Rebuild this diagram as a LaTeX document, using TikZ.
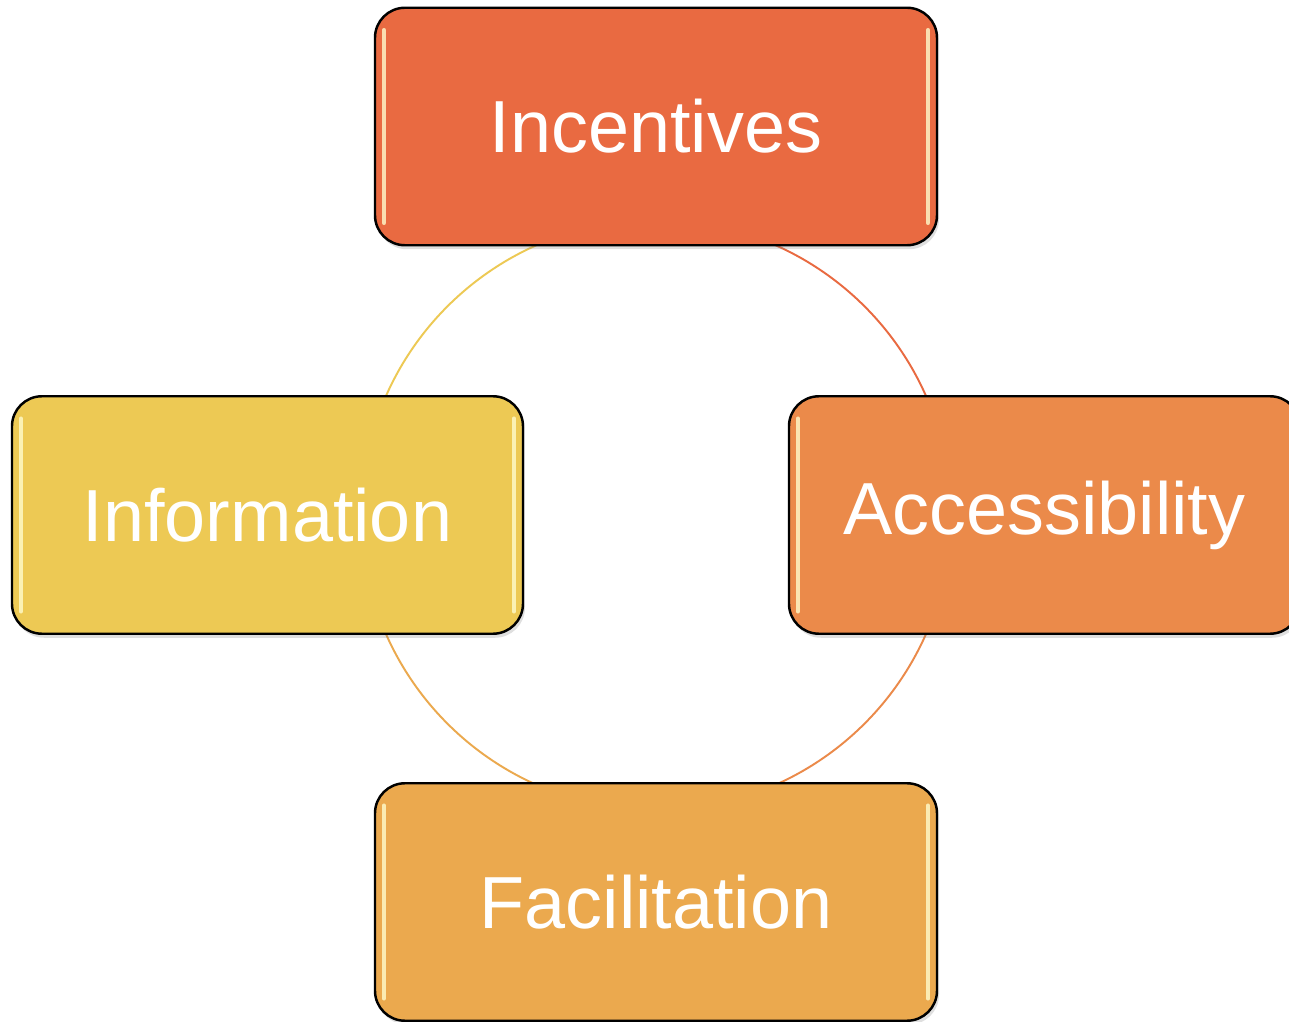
\documentclass[tikz,border=0pt]{standalone}
\usepackage{fontspec}
\setmainfont{Liberation Sans}
\usepackage{xcolor}
\usepackage{tikz}
\usetikzlibrary{shapes,arrows,positioning,shadows,calc}

\definecolor{incred}{HTML}{E96A41}
\definecolor{accorange}{HTML}{EB8A4A}
\definecolor{facorange}{HTML}{EBA94E}
\definecolor{infoyellow}{HTML}{EDC954}

\tikzset{
    cyclebox/.style={
        draw=black,
        line width=1.4pt,
        rounded corners=0.6cm,
        minimum height=4.75cm,
        text=white,
        font=\fontsize{42}{50}\selectfont,
        drop shadow={opacity=0.25, shadow xshift=0.04cm, shadow yshift=-0.08cm},
        path picture={
            \draw[yellow!20!white, opacity=0.8, line width=2.6pt, line cap=round]
                ([shift={(0.18,-0.45)}]path picture bounding box.north west) --
                ([shift={(0.18,0.45)}]path picture bounding box.south west);
            \draw[yellow!20!white, opacity=0.8, line width=2.6pt, line cap=round]
                ([shift={(-0.18,-0.45)}]path picture bounding box.north east) --
                ([shift={(-0.18,0.45)}]path picture bounding box.south east);
        }
    },
    cyclearc/.style={line width=1.1pt}
}

\begin{document}
\begin{tikzpicture}
                \useasboundingbox[fill=white] (-13.12,-10.14) rectangle (12.66,10.3);

                \coordinate (hub) at (0,0);

                % ring behind the boxes
                \draw[cyclearc, color=incred] ($(hub)+(90:5.9)$) arc[start angle=90, end angle=0, radius=5.9];
                \draw[cyclearc, color=accorange] ($(hub)+(0:5.9)$) arc[start angle=0, end angle=-90, radius=5.9];
                \draw[cyclearc, color=facorange] ($(hub)+(270:5.9)$) arc[start angle=270, end angle=180, radius=5.9];
                \draw[cyclearc, color=infoyellow] ($(hub)+(180:5.9)$) arc[start angle=180, end angle=90, radius=5.9];

                \node[cyclebox, fill=incred, minimum width=11.24cm] (incentives) at (0,7.77) {Incentives};
                \node[cyclebox, fill=accorange, minimum width=10.22cm] (accessibility) at (7.77,0) {Accessibility};
                \node[cyclebox, fill=facorange, minimum width=11.24cm] (facilitation) at (0,-7.74) {Facilitation};
                \node[cyclebox, fill=infoyellow, minimum width=10.22cm] (information) at (-7.77,0) {Information};

\end{tikzpicture}
\end{document}
